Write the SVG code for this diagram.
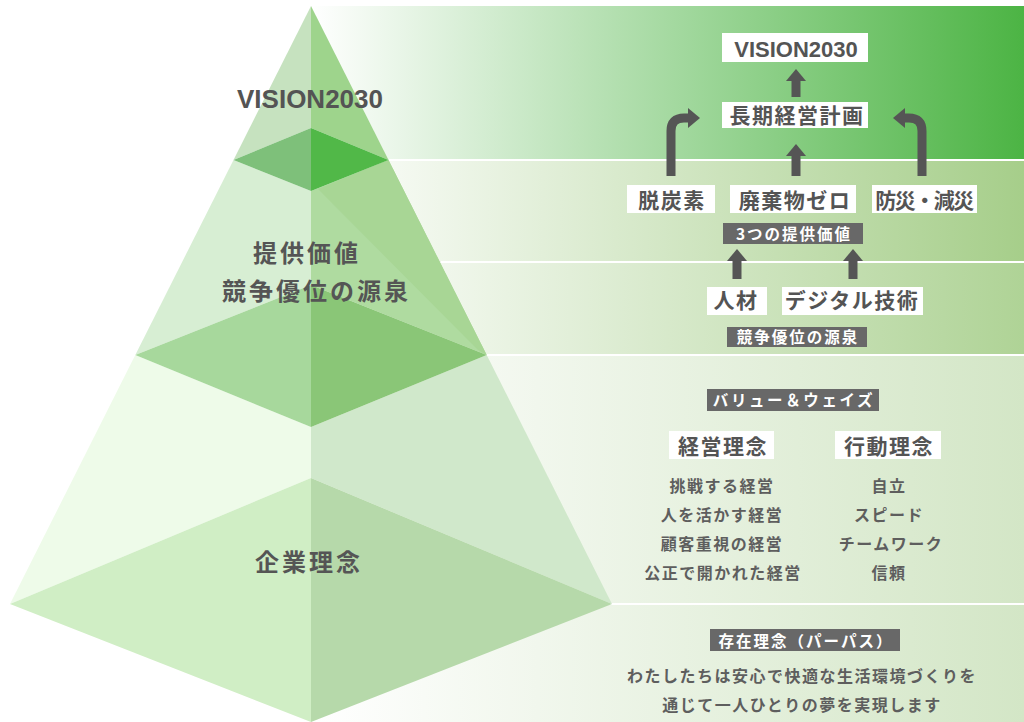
<svg xmlns="http://www.w3.org/2000/svg" width="1024" height="722" viewBox="0 0 1024 722">
  <defs>
    <style>
      text { font-family: 'Noto Sans CJK JP', 'Noto Sans', 'Liberation Sans', sans-serif; font-weight: 700; }
      .latin { font-family: 'Liberation Sans', 'Noto Sans', sans-serif; fill: #545454; }
      .lbl { fill: #545454; font-size: 21px; letter-spacing: 1.5px; text-anchor: middle; }
      .big { fill: #555555; font-size: 24px; letter-spacing: 3px; }
      .tag { fill: #ffffff; font-size: 15.5px; letter-spacing: 2px; text-anchor: middle; }
      .item { fill: #5e5e5e; font-size: 16px; letter-spacing: 1.5px; text-anchor: middle; }
      .wbox { fill: #ffffff; }
      .dbox { fill: #686868; }
      .arr { fill: none; stroke: #555555; stroke-width: 9; }
      .sep { fill: #ffffff; }
    </style>
    <linearGradient id="gA" x1="311" y1="0" x2="1024" y2="0" gradientUnits="userSpaceOnUse">
      <stop offset="0" stop-color="#ffffff"/>
      <stop offset="1" stop-color="#4cb444"/>
    </linearGradient>
    <linearGradient id="gB" x1="311" y1="0" x2="1024" y2="0" gradientUnits="userSpaceOnUse">
      <stop offset="0" stop-color="#ffffff"/>
      <stop offset="1" stop-color="#a6ce8a"/>
    </linearGradient>
    <linearGradient id="gC" x1="311" y1="0" x2="1024" y2="0" gradientUnits="userSpaceOnUse">
      <stop offset="0" stop-color="#ffffff"/>
      <stop offset="1" stop-color="#afd396"/>
    </linearGradient>
    <linearGradient id="gD" x1="311" y1="0" x2="1024" y2="0" gradientUnits="userSpaceOnUse">
      <stop offset="0" stop-color="#ffffff"/>
      <stop offset="1" stop-color="#d3e6c6"/>
    </linearGradient>
    <marker id="head" markerUnits="userSpaceOnUse" viewBox="0 0 12 20" markerWidth="12" markerHeight="20" refX="1" refY="10" orient="auto">
      <path d="M0,0 L12,10 L0,20 z" fill="#555555"/>
    </marker>
  </defs>

  <rect width="1024" height="722" fill="#ffffff"/>

  <!-- background bands -->
  <g id="bands">
    <rect x="311" y="6" width="713" height="154" fill="url(#gA)"/>
    <rect x="311" y="161" width="713" height="101" fill="url(#gB)"/>
    <rect x="311" y="263" width="713" height="91" fill="url(#gC)"/>
    <rect x="311" y="356" width="713" height="247" fill="url(#gD)"/>
    <rect x="311" y="605" width="713" height="117" fill="url(#gD)"/>
  </g>

  <!-- pyramid -->
  <g id="pyramid">
    <polygon points="311,6 233.5,160 311,128" fill="#c6e2bf"/>
    <polygon points="311,6 311,128 388.5,160" fill="#9ed48c"/>
    <polygon points="233.5,160 311,191 311,285 135.3,355" fill="#d7eed3"/>
    <polygon points="388.5,160 311,191 311,285 486.7,355" fill="#afdba0"/>
    <polygon points="388.5,160 318,189 478,350 486.7,355" fill="#a8d695"/>
    <polygon points="233.5,160 311,128 311,191" fill="#7ec07a"/>
    <polygon points="388.5,160 311,128 311,191" fill="#51b848"/>
    <polygon points="135.3,355 311,427 311,478 10,604" fill="#eefbe9"/>
    <polygon points="486.7,355 311,427 311,478 612,604" fill="#d0e8cb"/>
    <polygon points="135.3,355 311,285 311,427" fill="#a7d89c"/>
    <polygon points="486.7,355 311,285 311,427" fill="#8ac677"/>
    <polygon points="10,604 311,478 311,722" fill="#d0eec5"/>
    <polygon points="612,604 311,478 311,722" fill="#b6d9aa"/>
  </g>

  <!-- band separators -->
  <g id="separators">
    <rect class="sep" x="389" y="159" width="635" height="2"/>
    <rect class="sep" x="441" y="261" width="583" height="2"/>
    <rect class="sep" x="487" y="354" width="537" height="2"/>
    <rect class="sep" x="612" y="603" width="412" height="2"/>
  </g>

  <!-- left labels -->
  <g id="label-vision-left"><text class="latin" x="237" y="108" style="font-size:26px">VISION2030</text></g>
  <g id="label-value-left">
    <text class="big" x="253" y="262">提供価値</text>
    <text class="big" x="222" y="300">競争優位の源泉</text>
  </g>
  <g id="label-philosophy-left"><text class="big" x="255" y="571">企業理念</text></g>

  <!-- connectors -->
  <g id="connectors">
    <path class="arr" d="M796,97 V80" marker-end="url(#head)"/>
    <path class="arr" d="M796,176 V155" marker-end="url(#head)"/>
    <path class="arr" d="M671,176 V131 Q671,118 684,118 H689" marker-end="url(#head)"/>
    <path class="arr" d="M922,176 V131 Q922,118 909,118 H904" marker-end="url(#head)"/>
    <path class="arr" d="M737,279 V260" marker-end="url(#head)"/>
    <path class="arr" d="M853,279 V260" marker-end="url(#head)"/>
  </g>

  <!-- right nodes -->
  <g id="node-vision2030">
    <rect class="wbox" x="722" y="33" width="146" height="29"/>
    <text class="latin" x="796" y="57" style="font-size:22px;text-anchor:middle">VISION2030</text>
  </g>
  <g id="node-longterm">
    <rect class="wbox" x="722" y="102" width="146" height="26"/>
    <text class="lbl" x="797" y="123">長期経営計画</text>
  </g>
  <g id="node-decarbon">
    <rect class="wbox" x="627" y="185" width="88" height="28"/>
    <text class="lbl" x="672" y="208">脱炭素</text>
  </g>
  <g id="node-zerowaste">
    <rect class="wbox" x="730" y="185" width="126" height="28"/>
    <text class="lbl" x="795" y="208">廃棄物ゼロ</text>
  </g>
  <g id="node-disaster">
    <rect class="wbox" x="872" y="185" width="105" height="28"/>
    <text class="lbl" x="924" y="208" style="letter-spacing:-1.5px">防災・減災</text>
  </g>
  <g id="node-three-values">
    <rect class="dbox" x="723" y="223" width="140" height="21"/>
    <text class="tag" x="794" y="240">3つの提供価値</text>
  </g>
  <g id="node-people">
    <rect class="wbox" x="707" y="287" width="60" height="28"/>
    <text class="lbl" x="736" y="308">人材</text>
  </g>
  <g id="node-digital">
    <rect class="wbox" x="782" y="287" width="141" height="28"/>
    <text class="lbl" x="852" y="308">デジタル技術</text>
  </g>
  <g id="node-advantage">
    <rect class="dbox" x="727" y="327" width="140" height="20"/>
    <text class="tag" x="798" y="343">競争優位の源泉</text>
  </g>
  <g id="node-values-ways">
    <rect class="dbox" x="707" y="389" width="172" height="22"/>
    <text class="tag" x="794" y="406" style="letter-spacing:2.6px">バリュー＆ウェイズ</text>
  </g>
  <g id="node-management">
    <rect class="wbox" x="669" y="431" width="105" height="28"/>
    <text class="lbl" x="723" y="454">経営理念</text>
    <text class="item" x="722" y="492">挑戦する経営</text>
    <text class="item" x="722" y="521">人を活かす経営</text>
    <text class="item" x="722" y="550">顧客重視の経営</text>
    <text class="item" x="723" y="579">公正で開かれた経営</text>
  </g>
  <g id="node-conduct">
    <rect class="wbox" x="835" y="431" width="106" height="28"/>
    <text class="lbl" x="889" y="454">行動理念</text>
    <text class="item" x="889" y="492">自立</text>
    <text class="item" x="889" y="521">スピード</text>
    <text class="item" x="891" y="550">チームワーク</text>
    <text class="item" x="889" y="579">信頼</text>
  </g>
  <g id="node-purpose">
    <rect class="dbox" x="710" y="629" width="190" height="22"/>
    <text class="tag" x="806" y="647">存在理念（パーパス）</text>
    <text class="item" x="802" y="682">わたしたちは安心で快適な生活環境づくりを</text>
    <text class="item" x="802" y="711">通じて一人ひとりの夢を実現します</text>
  </g>
</svg>
